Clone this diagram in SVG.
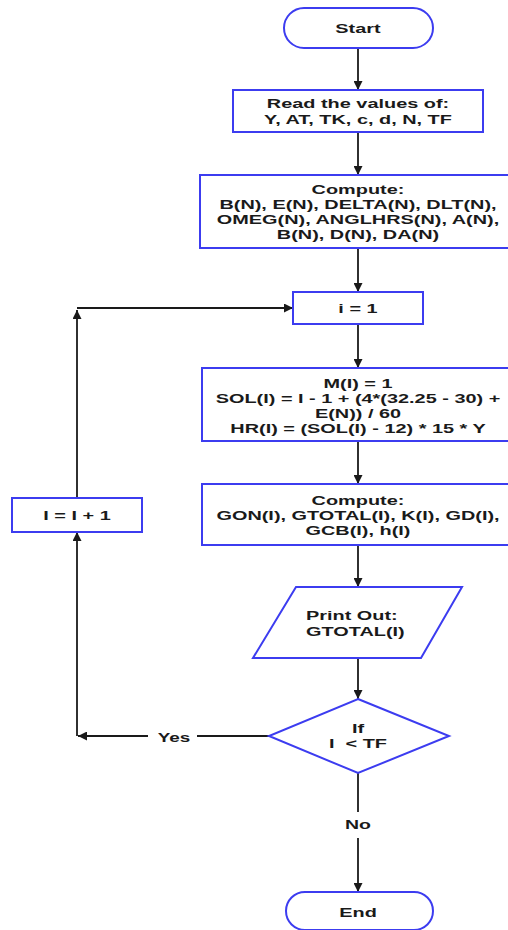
<svg xmlns="http://www.w3.org/2000/svg" width="508" height="930" viewBox="0 0 508 930">
  <style>
    .shape { fill: #ffffff; stroke: #3c3cf0; stroke-width: 2; }
    .lbl { font-family: "Liberation Sans", Arial, sans-serif; font-weight: bold; font-size: 13px; fill: #1a1a1a; text-anchor: middle; }
    .left { text-anchor: start; }
    .edge { fill: none; stroke: #1a1a1a; stroke-width: 1.8; }
  </style>
  <defs>
    <marker id="arrow" viewBox="0 0 10 10" refX="10" refY="5" markerWidth="9" markerHeight="9" markerUnits="userSpaceOnUse" orient="auto">
      <path d="M0,0 L10,5 L0,10 z" fill="#1a1a1a"/>
    </marker>
  </defs>
  <rect width="508" height="930" fill="#ffffff"/>

  <!-- connectors -->
  <g id="connectors">
    <path class="edge" d="M358 48 L358 90" marker-end="url(#arrow)"/>
    <path class="edge" d="M358 132 L358 175" marker-end="url(#arrow)"/>
    <path class="edge" d="M358 248 L358 292" marker-end="url(#arrow)"/>
    <path class="edge" d="M358 324 L358 368" marker-end="url(#arrow)"/>
    <path class="edge" d="M358 441 L358 484" marker-end="url(#arrow)"/>
    <path class="edge" d="M358 545 L358 587" marker-end="url(#arrow)"/>
    <path class="edge" d="M358 658 L358 699" marker-end="url(#arrow)"/>
    <!-- No branch -->
    <path class="edge" d="M358 773 L358 812"/>
    <path class="edge" d="M358 838 L358 892" marker-end="url(#arrow)"/>
    <!-- Yes branch -->
    <path class="edge" d="M269 736 L197 736"/>
    <path class="edge" d="M148 736 L78 736" marker-end="url(#arrow)"/>
    <path class="edge" d="M77 736 L77 532" marker-end="url(#arrow)"/>
    <path class="edge" d="M77 498 L77 310" marker-end="url(#arrow)"/>
    <path class="edge" d="M77 308 L293 308" marker-end="url(#arrow)"/>
    <g transform="translate(174 0) scale(1.45 1)">
      <text class="lbl" x="0" y="742">Yes</text>
    </g>
    <g transform="translate(358 0) scale(1.5 1)">
      <text class="lbl" x="0" y="829">No</text>
    </g>
  </g>

  <g id="start">
    <rect class="shape" x="284" y="8" width="149" height="40" rx="20" ry="20"/>
    <g transform="translate(358 0) scale(1.53 1)">
      <text class="lbl" x="0" y="33">Start</text>
    </g>
  </g>

  <g id="read">
    <rect class="shape" x="233" y="90" width="250" height="42"/>
    <g transform="translate(358 0) scale(1.53 1)">
      <text class="lbl" x="0" y="108">Read the values of:</text>
      <text class="lbl" x="0" y="124">Y, AT, TK, c, d, N, TF</text>
    </g>
  </g>

  <g id="compute-n">
    <rect class="shape" x="200" y="175" width="316" height="73"/>
    <g transform="translate(358 0) scale(1.53 1)">
      <text class="lbl" x="0" y="194">Compute:</text>
      <text class="lbl" x="0" y="209">B(N), E(N), DELTA(N), DLT(N),</text>
      <text class="lbl" x="0" y="224">OMEG(N), ANGLHRS(N), A(N),</text>
      <text class="lbl" x="0" y="239">B(N), D(N), DA(N)</text>
    </g>
  </g>

  <g id="init">
    <rect class="shape" x="293" y="292" width="130" height="32"/>
    <g transform="translate(358 0) scale(1.53 1)">
      <text class="lbl" x="0" y="313">i = 1</text>
    </g>
  </g>

  <g id="solar-time">
    <rect class="shape" x="202" y="368" width="314" height="73"/>
    <g transform="translate(358 0) scale(1.53 1)">
      <text class="lbl" x="0" y="388">M(I) = 1</text>
      <text class="lbl" x="0" y="403">SOL(I) = I - 1 + (4*(32.25 - 30) +</text>
      <text class="lbl" x="0" y="418">E(N)) / 60</text>
      <text class="lbl" x="0" y="433">HR(I) = (SOL(I) - 12) * 15 * Y</text>
    </g>
  </g>

  <g id="compute-i">
    <rect class="shape" x="202" y="484" width="314" height="61"/>
    <g transform="translate(358 0) scale(1.53 1)">
      <text class="lbl" x="0" y="505">Compute:</text>
      <text class="lbl" x="0" y="520">GON(I), GTOTAL(I), K(I), GD(I),</text>
      <text class="lbl" x="0" y="535">GCB(I), h(I)</text>
    </g>
  </g>

  <g id="increment">
    <rect class="shape" x="12" y="498" width="130" height="34"/>
    <g transform="translate(77 0) scale(1.53 1)">
      <text class="lbl" x="0" y="520">I = I + 1</text>
    </g>
  </g>

  <g id="print">
    <polygon class="shape" points="296,587 462,587 421,658 253,658"/>
    <g transform="translate(306 0) scale(1.53 1)">
      <text class="lbl left" x="0" y="620">Print Out:</text>
      <text class="lbl left" x="0" y="636">GTOTAL(I)</text>
    </g>
  </g>

  <g id="decision">
    <polygon class="shape" points="358,699 449,736 358,773 269,736"/>
    <g transform="translate(358 0) scale(1.53 1)">
      <text class="lbl" x="0" y="733">If</text>
      <text class="lbl" x="0" y="748" xml:space="preserve">I  &lt; TF</text>
    </g>
  </g>

  <g id="end">
    <rect class="shape" x="286" y="892" width="147" height="38" rx="19" ry="19"/>
    <g transform="translate(358 0) scale(1.53 1)">
      <text class="lbl" x="0" y="917">End</text>
    </g>
  </g>
</svg>
